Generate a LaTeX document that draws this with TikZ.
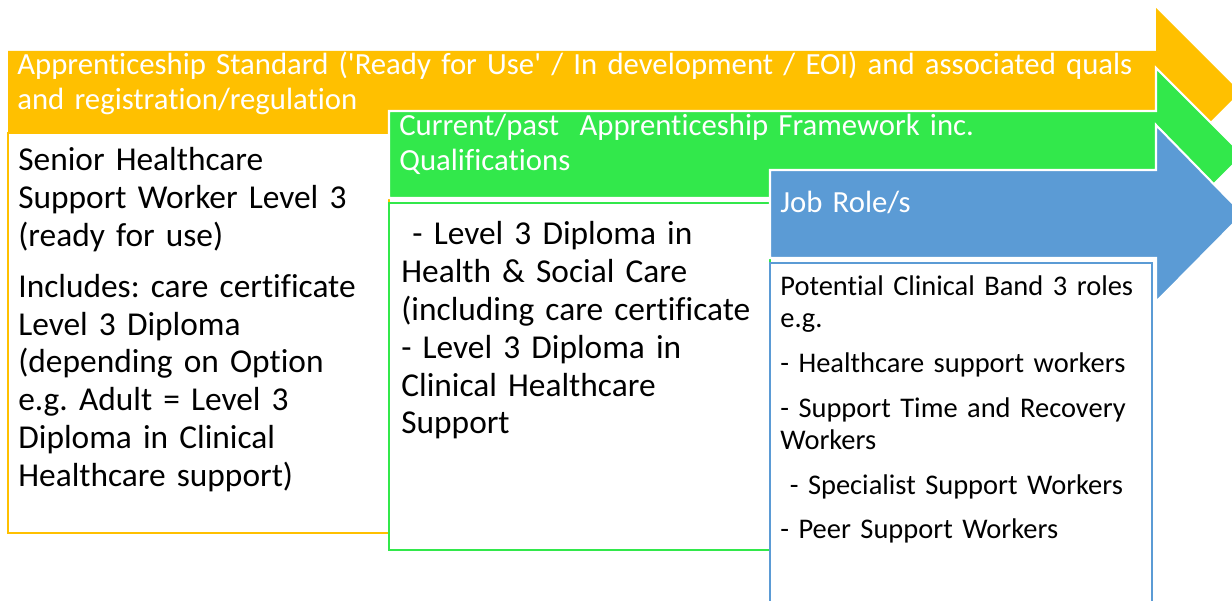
\documentclass[tikz,border=0pt]{standalone}
\usepackage{fontspec}
\setmainfont{Carlito}[Ligatures={CommonOff}]

\definecolor{stdorange}{RGB}{255,192,0}
\definecolor{fwgreen}{RGB}{50,232,75}
\definecolor{roleblue}{RGB}{91,155,213}

\tikzset{
  banner/.style={draw=white, line width=1.2pt, line join=miter},
  infobox/.style={fill=white, line width=1.2pt},
  headtext/.style={anchor=base west, inner sep=0pt, align=left, text width=23cm, text=white,
    font=\fontsize{17.5}{19.8}\selectfont},
  bigtext/.style={anchor=base west, inner sep=0pt, align=left, text width=7.5cm,
    font=\fontsize{19}{21.5}\selectfont},
  smalltext/.style={anchor=base west, inner sep=0pt, align=left, text width=7.5cm,
    font=\fontsize{16.2}{18.1}\selectfont}
}

\begin{document}
\frenchspacing
\begin{tikzpicture}[x=0.02cm, y=-0.02cm]
  \useasboundingbox (0,0) rectangle (1232,601);
  \clip (0,0) rectangle (1232,601);

  % standard
  \draw[banner, draw=none, fill=stdorange] (8,51) -- (1156,51) -- (1156,8) -- (1240,92)
    -- (1156,176) -- (1156,133) -- (8,133) -- cycle;
  \draw[infobox, draw=stdorange] (8,133) rectangle (389,533);
  \node[headtext] (stdhead) at (17,75)
    {Apprenticeship Standard (\textquotesingle Ready for Use\textquotesingle{} / In development / EOI) and associated quals\\
     and registration/regulation};
  \node[bigtext] (stdbody) at (18,171)
    {Senior Healthcare\\ Support Worker Level 3\\ (ready for use)\\[7.4pt]
     Includes: care certificate\\ Level 3 Diploma\\ (depending on Option\\
     e.g. Adult = Level 3\\ Diploma in Clinical\\ Healthcare support)};

  % framework
  \draw[banner, fill=fwgreen] (389,111) -- (1156,111) -- (1156,68) -- (1243,155)
    -- (1156,242) -- (1156,198) -- (389,198) -- cycle;
  \draw[infobox, draw=fwgreen] (389,203) rectangle (770,550);
  \node[headtext] (fwhead) at (399,136)
    {Current/past\ \ Apprenticeship Framework inc.\\ Qualifications};
  \node[bigtext] (fwbody) at (401,245)
    {\ - Level 3 Diploma in\\ Health \& Social Care\\ (including care certificate\\
     - Level 3 Diploma in\\ Clinical Healthcare\\ Support};

  % job roles
  \draw[banner, fill=roleblue] (770,170) -- (1156,170) -- (1156,125) -- (1243,214)
    -- (1156,302) -- (1156,258) -- (770,258) -- cycle;
  \draw[infobox, draw=roleblue] (770,263) rectangle (1152,640);
  \node[headtext] (rolehead) at (780,213) {Job Role/s};
  \node[smalltext] (rolebody) at (780,296)
    {Potential Clinical Band 3 roles\\ e.g.\\[7.4pt]
     - Healthcare support workers\\[7.4pt]
     - Support Time and Recovery\\ Workers\\[7.4pt]
     \ - Specialist Support Workers\\[7.4pt]
     - Peer Support Workers};
\end{tikzpicture}
\end{document}
